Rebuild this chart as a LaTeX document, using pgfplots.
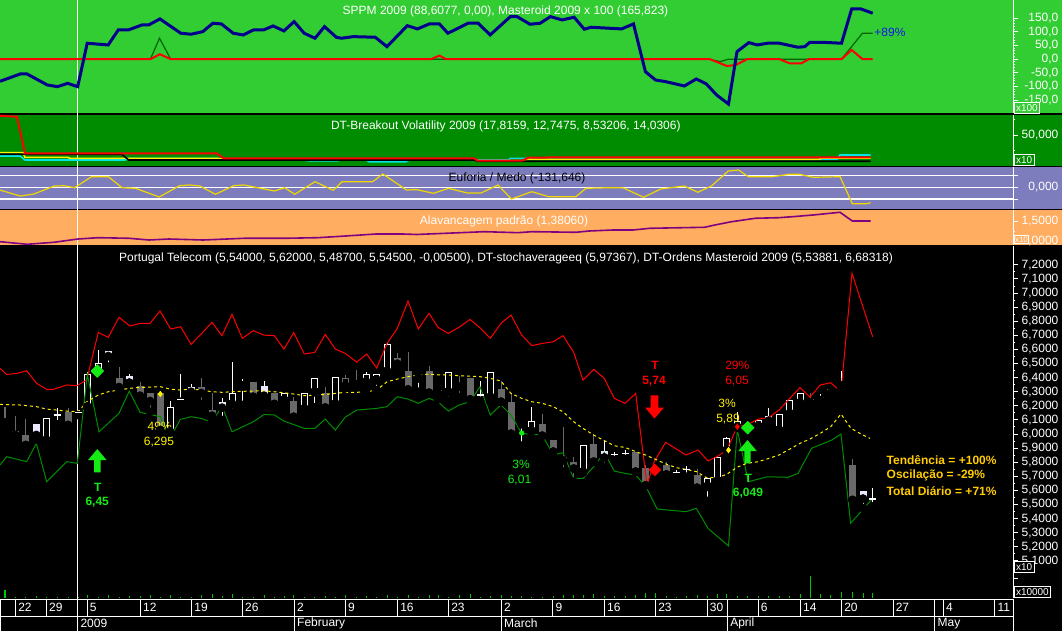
\documentclass[border=0pt]{standalone}
\usepackage{pgfplots}
\pgfplotsset{compat=1.18}
\usepackage{pgfplotstable}
\usepackage{fontspec}
\setmainfont{Liberation Sans}

\newcommand\sz{\fontsize{6}{7}\selectfont}
\newcommand\szs{\fontsize{5}{6}\selectfont}

\definecolor{bgA}{RGB}{50,205,50}
\definecolor{bgB}{RGB}{0,140,0}
\definecolor{bgC}{RGB}{125,125,190}
\definecolor{bgD}{RGB}{255,173,96}
\definecolor{sppm}{RGB}{0,0,140}
\definecolor{dkgreen}{RGB}{0,100,0}
\definecolor{sig}{RGB}{20,235,20}
\definecolor{band}{RGB}{0,140,0}
\definecolor{cgray}{RGB}{105,105,105}
\definecolor{lav}{RGB}{232,232,250}
\definecolor{gold}{RGB}{255,204,0}
\definecolor{purp}{RGB}{128,0,128}
\definecolor{eumed}{RGB}{240,215,0}
\definecolor{pctblue}{RGB}{20,20,235}
\definecolor{volc}{RGB}{0,200,0}
\definecolor{cyanl}{RGB}{0,230,230}

% signal arrows
\pgfdeclareplotmark{uparrow}{%
  \pgfpathmoveto{\pgfqpoint{0pt}{5.8pt}}%
  \pgfpathlineto{\pgfqpoint{4.65pt}{0.3pt}}%
  \pgfpathlineto{\pgfqpoint{1.6pt}{0.3pt}}%
  \pgfpathlineto{\pgfqpoint{1.6pt}{-5.8pt}}%
  \pgfpathlineto{\pgfqpoint{-1.6pt}{-5.8pt}}%
  \pgfpathlineto{\pgfqpoint{-1.6pt}{0.3pt}}%
  \pgfpathlineto{\pgfqpoint{-4.65pt}{0.3pt}}%
  \pgfpathclose\pgfusepathqfill}
\pgfdeclareplotmark{downarrow}{%
  \pgfpathmoveto{\pgfqpoint{0pt}{-5.8pt}}%
  \pgfpathlineto{\pgfqpoint{4.75pt}{-0.3pt}}%
  \pgfpathlineto{\pgfqpoint{1.9pt}{-0.3pt}}%
  \pgfpathlineto{\pgfqpoint{1.9pt}{5.8pt}}%
  \pgfpathlineto{\pgfqpoint{-1.9pt}{5.8pt}}%
  \pgfpathlineto{\pgfqpoint{-1.9pt}{-0.3pt}}%
  \pgfpathlineto{\pgfqpoint{-4.75pt}{-0.3pt}}%
  \pgfpathclose\pgfusepathqfill}

\pgfplotsset{
  panel/.style={anchor=north west, scale only axis, width=506.5pt,
    xmin=0, xmax=1013, axis x line=none, axis y line*=right,
    y axis line style={white, line width=0.5pt},
    tick align=outside, major tick length=2.5pt, minor tick length=1.2pt,
    every tick/.style={white, line width=0.5pt},
    yticklabel style={font=\sz, text=white, text width=20pt, align=right, inner sep=0pt},
    /pgf/number format/assume math mode=true,
    /pgf/number format/use comma, /pgf/number format/1000 sep={},
    /pgf/number format/fixed, /pgf/number format/fixed zerofill},
  wick/.style={forget plot, only marks, mark=none, error bars/.cd, y dir=plus,
    y explicit, error mark=none, error bar style={line width=0.5pt, #1}},
  body/.style 2 args={forget plot, only marks, mark=none, error bars/.cd, y dir=plus,
    y explicit, error mark=none, error bar style={line width=#2, #1}},
}

% candles: x, body top, body bottom, high, low
\pgfplotstableread{
x bt bb h l
46.3 6.111 5.953 6.111 5.953
87.3 6.426 6.189 6.442 6.189
98 6.501 6.419 6.596 6.383
170 6.189 6.012 6.234 6.012
232 6.288 6.210 6.508 6.147
242.3 6.355 6.338 6.390 6.206
284 6.291 6.239 6.291 6.194
304.3 6.291 6.175 6.291 6.158
314.7 6.397 6.296 6.397 6.189
335.3 6.404 6.210 6.404 6.158
366 6.428 6.367 6.442 6.312
376.3 6.428 6.381 6.428 6.312
387 6.636 6.442 6.643 6.442
418.3 6.428 6.395 6.428 6.300
438 6.315 6.286 6.315 6.246
448.3 6.442 6.296 6.442 6.234
490.3 6.442 6.258 6.442 6.229
521.7 6.087 6.069 6.097 5.917
531.3 6.095 6.019 6.189 6.019
583 5.920 5.728 5.920 5.728
707.5 5.688 5.626 5.688 5.525
717.7 5.837 5.665 5.837 5.665
726.7 5.974 5.882 5.981 5.882
737.3 6.095 6.045 6.158 6.045
747.7 6.060 6.030 6.070 6.020
758.3 6.097 6.052 6.097 6.035
779 6.140 6.026 6.140 6.026
789.7 6.241 6.142 6.241 6.106
800 6.291 6.218 6.291 6.194
820.3 6.260 6.234 6.281 6.220
830.7 6.317 6.288 6.317 6.265
841 6.357 6.339 6.447 6.312
}\candH
\pgfplotstableread{
x bt bb h l
36.3 6.071 5.993 6.071 5.962
108.3 6.589 6.553 6.589 6.478
129.3 6.411 6.364 6.426 6.364
191 6.331 6.300 6.352 6.258
222 6.227 6.187 6.258 6.099
264 6.341 6.272 6.376 6.241
604.3 5.879 5.834 5.960 5.768
768.7 6.128 6.095 6.182 6.052
863 5.595 5.542 5.595 5.475
}\candF
\pgfplotstableread{
x bt bb h l
5 6.095 6.083 6.189 6.083
15 6.021 5.993 6.128 5.993
25.7 5.993 5.922 6.104 5.922
68 6.154 6.064 6.182 6.064
119 6.397 6.333 6.473 6.300
140 6.338 6.272 6.367 6.234
150 6.291 6.234 6.291 6.158
160.3 6.291 6.028 6.300 6.028
201.3 6.331 6.291 6.395 6.213
212 6.170 6.130 6.288 6.099
253.3 6.371 6.265 6.371 6.210
274.3 6.291 6.213 6.291 6.213
293.7 6.234 6.123 6.265 6.106
325.3 6.291 6.189 6.331 6.158
356.7 6.364 6.352 6.454 6.352
397.3 6.539 6.499 6.572 6.478
408 6.445 6.317 6.582 6.300
429 6.445 6.293 6.485 6.293
459 6.348 6.336 6.414 6.262
470 6.395 6.246 6.395 6.246
501 6.317 6.229 6.378 6.229
511 6.227 6.002 6.288 6.002
542.3 6.071 5.988 6.140 5.988
553.3 5.957 5.875 5.957 5.875
563 5.837 5.813 6.047 5.733
573.7 5.799 5.756 5.834 5.662
593.7 5.927 5.804 6.000 5.804
635.7 5.872 5.733 5.872 5.733
645.7 5.756 5.636 5.780 5.636
655.5 5.750 5.730 5.780 5.700
666.4 5.780 5.714 5.799 5.674
697 5.709 5.619 5.749 5.619
810 6.248 6.222 6.288 6.222
852.5 5.780 5.532 5.823 5.532
}\candG
\pgfplotstableread{
x bt bb h l
345.3 6.395 6.336 6.419 6.324
}\candO
\pgfplotstableread{
x c h l
57.3 6.135 6.182 6.069
78 6.151 6.170 6.135
180.3 6.246 6.426 6.229
480 6.277 6.378 6.236
614.3 5.853 5.875 5.815
625 5.860 5.889 5.823
676 5.726 5.745 5.700
686.7 5.749 5.770 5.697
872.7 5.539 5.617 5.486
}\candX

\begin{document}
\begin{tikzpicture}
\useasboundingbox (0,0) rectangle (531pt,-315.5pt);
\fill[black] (0,0) rectangle (531pt,-315.5pt);
\begin{scope}[x=0.5pt,y=-0.5pt]
\fill[bgA] (0,0) rectangle (1062,113);
\fill[bgB] (0,115) rectangle (1062,166);
\fill[bgC] (0,167) rectangle (1062,209);
\fill[bgD] (0,210) rectangle (1062,245);
\draw[white, line width=0.5pt] (77.7,0) -- (77.7,631);
\end{scope}

% ---- SPPM panel
\begin{axis}[panel, at={(0pt,0pt)}, height=56.5pt, ymin=-197.5, ymax=217,
  ytick={-150,-100,-50,0,50,100,150}, minor tick num=4,
  /pgf/number format/precision=1]
\addplot[dkgreen, line width=0.6pt] coordinates {(0,0)(150.4,0)(159.5,76.7)(170.7,0)(709.8,0)(720,-9.2)(728.5,0)(841.5,0)(862.5,95.1)(872.7,95.1)};
\addplot[red, line width=1pt] coordinates {(0,0)(150.4,0)(159.9,18)(170.7,0)(431,0)(439.4,12.9)(446.2,0)(709.8,0)(726.8,-25)(735.3,-22)(747.2,0)(779.4,0)(789.6,-15.2)(801.4,-15.2)(808.9,0)(841.5,0)(851.7,33.8)(862.5,0)(872.7,0)};
\addplot[sppm, line width=1.5pt] coordinates {(0,-81.2)(20.3,-54.3)(27,-54.3)(47.3,-94.7)(57.5,-100.9)(67.6,-88.6)(77.7,-100.9)(87.2,58.3)(108.2,52.1)(118.3,107.2)(128.4,107.2)(142,125.5)(148.7,125.5)(159.9,147.6)(180.8,95.1)(191,91.4)(202.8,101)(212.9,131.8)(221.4,129.2)(233.2,95.1)(243.4,88.8)(253.5,107.2)(263.6,107.2)(273.1,121.9)(283.9,103.5)(294.1,137.7)(304.2,95.1)(315,76.7)(324.5,119.3)(336.3,80.4)(341.4,76.7)(353.2,82.6)(375.2,80.4)(387,45.9)(407.3,123)(417.4,110.9)(429.3,129.2)(439.4,129.2)(447.9,95.1)(468.1,131.8)(478.3,131.8)(490.1,88.8)(510.4,156)(517.1,156)(530,128)(540.2,131.8)(550.4,156)(562.2,143.9)(574.1,153.8)(584.3,109.8)(591.1,117.1)(621.6,110.9)(633.5,129.2)(645.4,-45.9)(655.5,-76.4)(665.7,-82.6)(684.4,-98.4)(696.3,-72.7)(706.4,-91)(716.6,-131.4)(728.5,-164.5)(737,27.5)(748.8,60.6)(757.3,52.1)(767.5,58.4)(779.4,58.4)(798,43.7)(804.8,45.9)(809.9,62)(821.8,62)(841.5,58.4)(851.7,184.3)(860.8,184.3)(872.7,168.5)};
\node[anchor=west, text=pctblue, font=\sz, inner sep=0pt] at (axis cs:874,100) {+89\%};
\end{axis}

% ---- DT-Breakout Volatility
\begin{axis}[panel, at={(0pt,-57.5pt)}, height=25.5pt, ymin=0, ymax=82.3,
  ytick={50}, minor ytick={25,75}, /pgf/number format/precision=3]
\addplot[cyanl, line width=0.8pt] coordinates {(0,16.1)(20.3,16.1)(25,9.7)(125,9.7)(128,12.4)(216.8,12.4)(223.6,10.8)(305,10.8)(308,8.5)(338,8.5)(341,10.8)(365,10.8)(369,6.9)(406,6.9)(409,9.7)(508,9.7)(511,12.4)(528,12.4)(532,10.8)(837,10.8)(840,17.8)(870.6,17.8)};
\addplot[yellow, line width=0.8pt] coordinates {(0,21.5)(23,21.5)(25,14.0)(67.7,14.0)(70,12.4)(216.8,12.4)(223.6,10.8)(474.3,10.8)(477.6,8.5)(521.7,8.5)(528.5,10.8)(819,10.8)(822,12.7)(870.6,12.7)};
\addplot[black, line width=0.8pt] coordinates {(0,18.9)(121.9,18.9)(128.7,9.7)(474.3,9.7)(477.6,7.6)(870.6,7.6)};
\addplot[red, line width=1pt] coordinates {(0,81.1)(16.9,79.5)(25,20.5)(216.8,20.5)(223.6,12.4)(474.3,12.4)(477.6,8.5)(521.7,8.5)(528.5,13.4)(562.3,14.0)(870.6,14.0)};
\end{axis}

% ---- Euforia / Medo
\begin{axis}[panel, at={(0pt,-83.5pt)}, height=21pt, ymin=-184.5, ymax=172.6,
  ytick={0}, extra y ticks={-100,100}, extra y tick labels={},
  ymajorgrids, extra y tick style={grid=major},
  major grid style={white, line width=0.6pt}, /pgf/number format/precision=3]
\addplot[eumed, line width=0.6pt] coordinates {(0,-23)(20.3,-74.8)(33.9,-57)(54.2,11)(64.4,13)(74.5,-3.4)(91.5,90)(108.4,90)(122,-3.4)(135.5,-8.5)(159.2,-82.5)(179.5,13.6)(189.7,19.5)(199.9,11)(215.4,-59.5)(233.7,13.6)(243.9,19.5)(274.4,-31.5)(284.6,-3.4)(294.7,-59.5)(315,47.6)(333.3,-25.5)(342.1,47.6)(372.6,47.6)(382.8,113)(406.5,-23)(416.7,-20)(433.6,-51)(448.5,-8.5)(467.5,-48.5)(481,-48.5)(498,19.5)(511.5,-99.5)(531.8,-37.4)(548.8,-80)(575.9,-80)(586,-8.5)(609.8,-3.4)(623.3,-5)(643.6,-85)(660.6,-14.5)(684.3,11)(697.8,-42.5)(711.4,11)(728.3,138.5)(738.5,147)(748.6,90)(772.4,90)(789.3,110.5)(799.5,110.5)(813,85)(840.1,90)(852.3,-140)(865.9,-140)(870.6,-131.6)};
\end{axis}

% ---- Alavancagem padrao
\begin{axis}[panel, at={(0pt,-105pt)}, height=17.5pt, ymin=0.9, ymax=1.775,
  ytick={1,1.5}, minor tick num=1, /pgf/number format/precision=4]
\addplot[purp, line width=0.8pt] coordinates {(0,0.983)(27,0.918)(54,0.968)(78,1.05)(98,1.083)(129,1.068)(149,1.025)(169,1.05)(203,1.025)(244,1.068)(285,1.068)(318,1.083)(345.5,1.125)(376,1.175)(403,1.175)(416.7,1.163)(484.4,1.233)(518,1.208)(532,1.233)(576,1.218)(589,1.25)(613,1.275)(633,1.275)(650,1.318)(704.6,1.343)(714.8,1.40)(731.7,1.483)(755.4,1.568)(779,1.583)(792.7,1.608)(813,1.65)(840,1.718)(852.3,1.5)(870.6,1.5)};
\end{axis}

% ---- price panel
\begin{axis}[panel, at={(0pt,-123pt)}, height=164.5pt, ymin=5.0, ymax=7.334,
  ytick={5.1,5.2,5.3,5.4,5.5,5.6,5.7,5.8,5.9,6.0,6.1,6.2,6.3,6.4,6.5,6.6,6.7,6.8,6.9,7.0,7.1,7.2},
  minor tick num=1, /pgf/number format/precision=4]
\addplot[wick=white] table[x=x, y=l, y error expr=\thisrow{h}-\thisrow{l}] {\candH};
\addplot[wick=white] table[x=x, y=l, y error expr=\thisrow{h}-\thisrow{l}] {\candF};
\addplot[wick=cgray] table[x=x, y=l, y error expr=\thisrow{h}-\thisrow{l}] {\candG};
\addplot[wick=cgray] table[x=x, y=l, y error expr=\thisrow{h}-\thisrow{l}] {\candO};
\addplot[wick=white] table[x=x, y=l, y error expr=\thisrow{h}-\thisrow{l}] {\candX};
\addplot[body={white}{3.5pt}] table[x=x, y=bb, y error expr=\thisrow{bt}-\thisrow{bb}] {\candH};
\addplot[body={black}{2.5pt}] table[x=x, y expr=\thisrow{bb}+0.0071, y error expr=\thisrow{bt}-\thisrow{bb}-0.0142] {\candH};
\addplot[body={lav}{3.5pt}] table[x=x, y=bb, y error expr=\thisrow{bt}-\thisrow{bb}] {\candF};
\addplot[body={cgray}{3.5pt}] table[x=x, y=bb, y error expr=\thisrow{bt}-\thisrow{bb}] {\candG};
\addplot[body={cgray}{3.5pt}] table[x=x, y=bb, y error expr=\thisrow{bt}-\thisrow{bb}] {\candO};
\addplot[body={black}{2.5pt}] table[x=x, y expr=\thisrow{bb}+0.0071, y error expr=\thisrow{bt}-\thisrow{bb}-0.0142] {\candO};
\addplot[only marks, mark=-, mark size=1.75pt, white, line width=0.6pt, forget plot] table[x=x, y=c] {\candX};
% upper band
\addplot[red, line width=0.5pt] coordinates {(0,6.466)(6.7,6.423)(16.7,6.430)(26.7,6.449)(36.7,6.359)(46.7,6.317)(53.3,6.317)(66.7,6.348)(76.7,6.343)(86.7,6.383)(98.3,6.721)(108.3,6.686)(119,6.828)(130,6.766)(140,6.785)(150,6.785)(160,6.873)(170.7,6.745)(180.7,6.761)(191,6.636)(201.7,6.714)(212,6.792)(222,6.698)(232,6.849)(242.3,6.679)(253.3,6.733)(264,6.702)(274.3,6.698)(284,6.603)(293.7,6.719)(304.3,6.568)(314.7,6.579)(325.3,6.707)(335.3,6.603)(345.3,6.572)(356.7,6.510)(366.7,6.567)(376.7,6.468)(387,6.643)(397.3,6.750)(408,6.944)(418.3,6.745)(429,6.856)(438,6.757)(448.3,6.714)(459,6.757)(470,6.813)(480,6.754)(490.3,6.679)(501,6.785)(511,6.844)(521.7,6.702)(531.7,6.627)(542.3,6.643)(553.3,6.655)(563,6.698)(573.7,6.579)(583,6.383)(593.7,6.459)(604.3,6.395)(614.3,6.253)(625,6.218)(635.7,6.288)(647,5.638)(654.5,5.809)(665.7,5.941)(686,5.851)(698,5.887)(708,5.809)(716.7,5.839)(726.7,5.886)(737.3,6.052)(747.7,6.069)(758.3,6.106)(768.7,6.116)(779,6.170)(789.7,6.253)(800,6.329)(810,6.262)(820.3,6.348)(830.7,6.364)(841,6.300)(852,7.14)(872.7,6.690)};
% lower band
\addplot[band, line width=0.5pt] coordinates {(0,5.780)(6.7,5.839)(26.7,5.804)(36.3,5.934)(46.7,5.662)(66.7,5.804)(77.3,5.792)(87.3,6.423)(99,6.016)(119,6.147)(129.3,6.305)(140,6.154)(160.3,6.123)(170,5.969)(180.3,6.104)(191,6.123)(201.3,6.111)(212,6.083)(222,6.199)(232,6.016)(253.3,6.087)(264,6.139)(274.3,6.135)(284,6.092)(304.3,6.040)(314.7,6.040)(325.3,6.106)(335.3,6.028)(345.3,6.120)(356.7,6.170)(376.7,6.182)(387,6.194)(397.3,6.265)(408,6.248)(418.3,6.218)(429,6.253)(438,6.229)(448.3,6.163)(459,6.206)(470,6.229)(480,6.336)(490.3,6.135)(501,6.206)(511,6.135)(521.7,6.005)(531.7,5.998)(542.3,5.993)(553.3,5.851)(563,5.868)(573.7,5.685)(583,5.685)(593.7,5.768)(604.3,5.868)(614.3,5.737)(625,5.721)(635.7,5.709)(646,5.626)(657.2,5.468)(686,5.449)(696.3,5.473)(708,5.331)(728.5,5.206)(737.3,6.03)(748.3,5.662)(767.5,5.697)(788,5.693)(798,5.721)(811.6,5.899)(832,5.958)(841,6.0)(850.6,5.367)(872.7,5.544)};
% stochastic average
\addplot[yellow, line width=0.5pt, dash pattern=on 1.5pt off 1.5pt] coordinates {(0,6.210)(20,6.206)(36.7,6.194)(46.7,6.177)(56.7,6.170)(66.7,6.163)(78.3,6.158)(86.7,6.229)(98.3,6.277)(108.3,6.300)(119,6.312)(129.3,6.324)(140,6.331)(150,6.333)(160.3,6.336)(170,6.319)(180.3,6.312)(191,6.319)(201.3,6.312)(212,6.300)(222,6.296)(232,6.300)(242.3,6.303)(253.3,6.305)(264,6.307)(274.3,6.300)(284,6.293)(293.7,6.284)(304.3,6.272)(314.7,6.277)(325.3,6.281)(335.3,6.288)(345.3,6.296)(356.7,6.296)(366.7,6.300)(376.7,6.312)(387,6.371)(397.3,6.390)(408,6.407)(418.3,6.419)(429,6.426)(438,6.419)(448.3,6.419)(459,6.414)(470,6.411)(480,6.407)(490.3,6.395)(501,6.376)(511,6.288)(521.7,6.253)(531.7,6.229)(542.3,6.218)(553.3,6.194)(563,6.158)(573.7,6.087)(583,6.040)(593.7,5.993)(604.3,5.953)(614.3,5.917)(625,5.905)(635.7,5.875)(645.7,5.851)(654.7,5.823)(666.7,5.785)(676.7,5.761)(686.7,5.749)(696.7,5.733)(706.4,5.690)(717.6,5.690)(726.8,5.715)(737.3,5.765)(746.7,5.792)(758.3,5.804)(768.7,5.827)(779,5.851)(789.7,5.893)(800,5.934)(810,5.965)(820.3,6.005)(830.7,6.052)(841,6.142)(851,6.040)(861.7,5.998)(870,5.969)};
% signals
\addplot[only marks, mark=square*, mark size=2.2pt, mark options={rotate=45}, sig] coordinates {(97.3,6.447)(747.7,6.045)};
\addplot[only marks, mark=square*, mark size=2pt, mark options={rotate=45}, red] coordinates {(654.9,5.745)};
\addplot[only marks, mark=diamond*, mark size=1.3pt, yellow] coordinates {(160.3,6.284)(728.5,5.886)};
\addplot[only marks, mark=diamond*, mark size=1.3pt, red] coordinates {(737.3,6.052)};
\addplot[only marks, mark=*, mark size=1.1pt, sig] coordinates {(521.7,6.007)};
\addplot[only marks, mark=uparrow, sig] coordinates {(97.3,5.811)(747.5,5.875)};
\addplot[only marks, mark=downarrow, red] coordinates {(654.5,6.192)};
\begin{scope}[every node/.style={font=\sz, inner sep=0pt}]
\node[text=sig, font=\sz\bfseries] at (axis cs:97.7,5.619) {T};
\node[text=sig, font=\sz\bfseries] at (axis cs:97.2,5.518) {6,45};
\node[text=yellow] at (axis cs:159.7,6.057) {49\%};
\node[text=yellow] at (axis cs:159,5.945) {6,295};
\node[text=sig] at (axis cs:521,5.785) {3\%};
\node[text=sig] at (axis cs:519.5,5.674) {6,01};
\node[text=red, font=\sz\bfseries] at (axis cs:655,6.490) {T};
\node[text=red, font=\sz\bfseries] at (axis cs:654,6.376) {5,74};
\node[text=red] at (axis cs:737.3,6.485) {29\%};
\node[text=red] at (axis cs:737,6.378) {6,05};
\node[text=yellow] at (axis cs:727,6.218) {3\%};
\node[text=yellow] at (axis cs:728,6.107) {5,89};
\node[text=sig, font=\sz\bfseries] at (axis cs:748.3,5.686) {T};
\node[text=sig, font=\sz\bfseries] at (axis cs:748,5.579) {6,049};
\node[text=gold, font=\sz\bfseries, anchor=west] at (axis cs:886.3,5.816) {Tendência = +100\%};
\node[text=gold, font=\sz\bfseries, anchor=west] at (axis cs:886.3,5.709) {Oscilação = -29\%};
\node[text=gold, font=\sz\bfseries, anchor=west] at (axis cs:886.3,5.598) {Total Diário = +71\%};
\end{scope}
\end{axis}

% ---- volume
\begin{axis}[panel, at={(0pt,-287.5pt)}, height=11.5pt, ymin=0, ymax=23,
  ytick={10,20}, yticklabels={}]
\addplot[ycomb, volc, line width=0.5pt] table {
x v
5 8
15 1
25.7 1
36.3 2
46.3 1
57.3 1
68 1
78 1
87.3 3
98 1
108.3 3
119 1
129.3 2
140 2
150 3
160.3 1
170 3
180.3 1
191 1
201.3 3
212 4
222 2
232 4
242.3 1
253.3 1
264 3
274.3 1
284 2
293.7 3
304.3 1
314.7 1
325.3 2
335.3 1
345.3 3
356.7 1
366 2
376.3 1
387 3
397.3 1
408 3
418.3 1
429 3
438 3
448.3 1
459 3
470 4
480 1
490.3 2
501 3
511 2
521.7 2
531.3 1
542.3 1
553.3 2
563 3
573.7 3
583 3
593.7 4
604.3 2
614.3 2
625 2
635.7 3
645.7 5
655.5 5
666.4 2
676 1
686.7 2
697 3
707.5 2
717.7 4
726.7 4
737.3 2
747.7 2
758.3 2
768.7 2
779 2
789.7 2
800 4
810 22
820.3 4
830.7 3
841 6
852.5 6
863 5
872.7 5
};
\end{axis}

% ---- date rows
\begin{axis}[anchor=north west, at={(0pt,-299.5pt)}, scale only axis, width=506.5pt, height=8.5pt,
  xmin=0, xmax=1013, ymin=0, ymax=1, ytick=\empty,
  axis line style={white, line width=0.5pt}, major tick length=0pt,
  xtick={15.5,46.3,77.7,87.2,140.3,191.6,242.3,294.4,345.4,397.5,448.5,501.3,552.7,604.3,655.5,707.1,727.5,758,800.4,841.5,893,934.8,943.3,994.8},
  xticklabels={22,29,{},5,12,19,26,2,9,16,23,2,9,16,23,30,{},6,14,20,27,{},4,11},
  xmajorgrids, major grid style={white, line width=0.5pt},
  xticklabel style={font=\sz, text=white, anchor=west, inner sep=0pt, xshift=1.2pt, yshift=4.25pt}]
\end{axis}
\begin{axis}[anchor=north west, at={(0pt,-308pt)}, scale only axis, width=506.5pt, height=7.5pt,
  xmin=0, xmax=1013, ymin=0, ymax=1, ytick=\empty,
  axis line style={white, line width=0.5pt}, major tick length=0pt,
  xtick={77.7,294.4,501.3,727.5,934.8},
  xticklabels={2009,February,March,April,May},
  xmajorgrids, major grid style={white, line width=0.5pt},
  xticklabel style={font=\sz, text=white, anchor=west, inner sep=0pt, xshift=1.2pt, yshift=3.75pt}]
\end{axis}

% ---- titles and scale boxes
\begin{scope}[x=0.5pt,y=-0.5pt, every node/.style={font=\sz, inner sep=0pt}]
\node[text=white] at (505.5,11.5) {SPPM 2009 (88,6077, 0,00), Masteroid 2009 x 100 (165,823)};
\node[text=white] at (505.8,126.5) {DT-Breakout Volatility 2009 (17,8159, 12,7475, 8,53206, 14,0306)};
\node[text=black] at (517,178) {Euforia / Medo (-131,646)};
\node[text=white] at (504,221) {Alavancagem padrão (1,38060)};
\node[text=white] at (506,258) {Portugal Telecom (5,54000, 5,62000, 5,48700, 5,54500, -0,00500), DT-stochaverageeq (5,97367), DT-Ordens Masteroid 2009 (5,53881, 6,68318)};
\node[draw=white, fill=bgA, text=white, font=\szs, anchor=south west, inner sep=1pt, line width=0.5pt] at (1013.5,114) {x100};
\node[draw=white, fill=bgB, text=white, font=\szs, anchor=south west, inner sep=1pt, line width=0.5pt] at (1013.5,166) {x10};
\node[draw=white, fill=bgD, text=white, font=\fontsize{4}{5}\selectfont, anchor=south west, inner sep=0.5pt, line width=0.5pt] at (1013.5,244) {x10};
\node[draw=white, fill=black, text=white, font=\szs, anchor=south west, inner sep=1pt, line width=0.5pt] at (1013.5,573) {x10};
\node[draw=white, fill=black, text=white, font=\szs, anchor=south west, inner sep=1pt, line width=0.5pt] at (1013.5,598) {x10000};
\end{scope}
\end{tikzpicture}
\end{document}
